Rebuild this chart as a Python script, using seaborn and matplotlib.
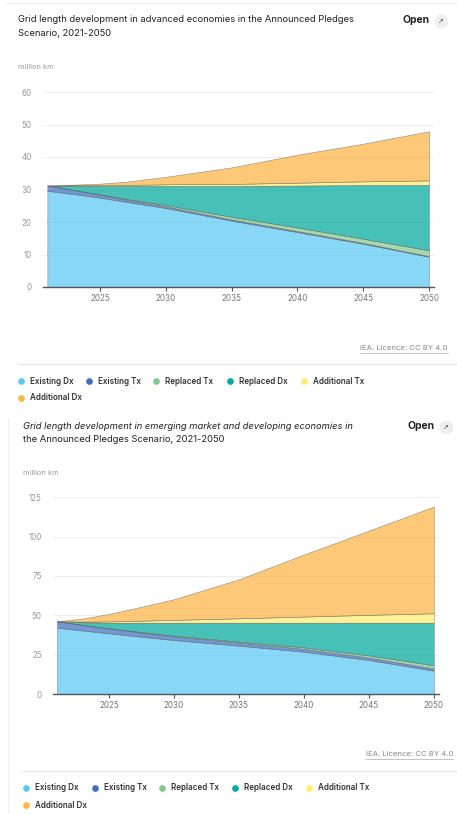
import numpy as np
import pandas as pd
import matplotlib
matplotlib.use("Agg")
import matplotlib.pyplot as plt
import seaborn as sns
from matplotlib.lines import Line2D

# --- datos ---
years = [2021, 2023, 2025, 2027, 2030, 2035, 2040, 2045, 2050]
series_names = ["Existing Dx", "Existing Tx", "Replaced Tx",
                "Replaced Dx", "Additional Tx", "Additional Dx"]
series_colors = ["#5BC8F5", "#3F6EC3", "#82C98C", "#00A99D", "#FDEE6F", "#FDB544"]

# advanced economies (million km)
adv_existing_dx = [29.6, 28.6, 27.5, 26.2, 24.3, 20.4, 16.9, 13.3, 9.3]
adv_existing_tx = [1.6, 1.2, 0.9, 0.7, 0.5, 0.4, 0.3, 0.25, 0.2]
adv_replaced_tx = [0.0, 0.05, 0.1, 0.2, 0.4, 0.8, 1.1, 1.3, 1.8]
adv_replaced_dx = [0.0, 1.35, 2.6, 4.0, 5.9, 9.5, 12.9, 16.55, 20.1]
adv_additional_tx = [0.0, 0.1, 0.2, 0.3, 0.5, 0.6, 0.9, 1.1, 1.4]
adv_additional_dx = [0.0, 0.2, 0.5, 1.0, 2.3, 5.1, 8.6, 11.6, 15.1]

# emerging market and developing economies (million km)
emde_existing_dx = [42.2, 40.3, 38.6, 36.8, 34.3, 30.7, 26.9, 21.6, 14.8]
emde_existing_tx = [4.0, 3.5, 3.0, 2.7, 2.3, 2.0, 1.8, 1.6, 1.4]
emde_replaced_tx = [0.0, 0.1, 0.2, 0.3, 0.4, 0.6, 0.9, 1.3, 2.0]
emde_replaced_dx = [0.0, 1.7, 3.5, 5.5, 8.3, 12.0, 15.7, 20.8, 27.1]
emde_additional_tx = [0.0, 0.4, 0.8, 1.2, 1.8, 2.8, 3.9, 5.0, 6.0]
emde_additional_dx = [0.0, 2.0, 4.8, 8.0, 13.1, 24.8, 39.4, 53.5, 67.8]

adv_yticks = [0, 10, 20, 30, 40, 50, 60]
emde_yticks = [0, 25, 50, 75, 100, 125]
xticks = [2025, 2030, 2035, 2040, 2045, 2050]

df_adv = pd.DataFrame(dict(zip(series_names, [adv_existing_dx, adv_existing_tx, adv_replaced_tx,
                                             adv_replaced_dx, adv_additional_tx, adv_additional_dx])),
                      index=years)
df_emde = pd.DataFrame(dict(zip(series_names, [emde_existing_dx, emde_existing_tx, emde_replaced_tx,
                                              emde_replaced_dx, emde_additional_tx, emde_additional_dx])),
                       index=years)

W, H = 457, 814

sns.set_theme(style="white")
plt.rcParams['font.family'] = ['Inter', 'DejaVu Sans']

fig = plt.figure(figsize=(W / 100, H / 100), dpi=100)


def fx(x):
    return x / W


def fy(y):
    return 1 - y / H


def draw_panel(ax, df, yticks, xlim):
    ax.stackplot(df.index, [df[c] for c in series_names], colors=series_colors,
                 alpha=0.72, edgecolor="#666666", linewidth=0.4)
    ax.set_xlim(*xlim)
    ax.set_ylim(yticks[0], yticks[-1])
    ax.set_yticks(yticks)
    ax.set_xticks(xticks)
    ax.yaxis.grid(True, color="#eeeeee", linewidth=0.7)
    ax.set_axisbelow(True)
    sns.despine(ax=ax, left=True)
    ax.spines["bottom"].set_color("#555555")
    ax.spines["bottom"].set_linewidth(1.0)
    ax.tick_params(axis="x", length=3, width=0.8, color="#555555", pad=2,
                   labelsize=5.8, labelcolor="#777777", bottom=True)
    ax.tick_params(axis="y", length=0, pad=8, labelsize=5.8, labelcolor="#999999")
    ax.set_xlabel("")
    ax.set_ylabel("")


def draw_card(top, title1, title2, left, italic1=False):
    fig.text(fx(left), fy(top), title1, fontsize=6.75, color="#222222",
             va="center", ha="left", style="italic" if italic1 else "normal")
    fig.text(fx(left), fy(top + 14), title2, fontsize=6.75, color="#222222",
             va="center", ha="left")
    # boton Open
    fig.text(fx(left + 412), fy(top), "Open", fontsize=7.5, fontweight="bold",
             color="#222222", va="center", ha="right")
    fig.add_artist(Line2D([fx(left + 423)], [fy(top + 1)], marker="o", markersize=9,
                          color="#eeeeee", transform=fig.transFigure))
    fig.text(fx(left + 423), fy(top + 1), "\u2197", fontsize=5, color="#555555",
             va="center", ha="center", family=["DejaVu Sans"])
    fig.text(fx(left), fy(top + 47), "million km", fontsize=5.3, color="#999999",
             va="center", ha="left")


def draw_footer(lic_y, lic_x, sep_y, sep_x, leg_y, dot_xs):
    fig.text(fx(lic_x), fy(lic_y), "IEA. Licence: CC BY 4.0", fontsize=5.6,
             color="#888888", va="center", ha="right")
    fig.add_artist(Line2D([fx(lic_x - 88), fx(lic_x)], [fy(lic_y + 4.5)] * 2,
                          color="#aaaaaa", linewidth=0.5, transform=fig.transFigure))
    fig.add_artist(Line2D([fx(sep_x), fx(457)], [fy(sep_y)] * 2,
                          color="#e6e6e6", linewidth=0.8, transform=fig.transFigure))
    positions = [(x, leg_y) for x in dot_xs] + [(dot_xs[0], leg_y + 17)]
    for (x, y), name, col in zip(positions, series_names, series_colors):
        fig.add_artist(Line2D([fx(x)], [fy(y)], marker="o", markersize=3.8, color=col,
                              linewidth=0, transform=fig.transFigure))
        fig.text(fx(x + 9), fy(y), name, fontsize=5.8, fontweight="semibold",
                 color="#333333", va="center", ha="left")


# --- panel 1: advanced economies ---
ax1 = fig.add_axes([fx(43), fy(287), fx(434) - fx(43), fy(92) - fy(287)])
draw_panel(ax1, df_adv, adv_yticks, (2020.67, 2050.38))
fig.add_artist(Line2D([fx(6), fx(457)], [fy(3)] * 2, color="#eeeeee", linewidth=0.8,
                      transform=fig.transFigure))
draw_card(20, "Grid length development in advanced economies in the Announced Pledges",
          "Scenario, 2021-2050", 18)
draw_footer(348, 448, 364, 18, 381, [21, 89, 156, 230, 304])

# --- panel 2: emerging market and developing economies ---
ax2 = fig.add_axes([fx(53), fy(694), fx(439) - fx(53), fy(497.3) - fy(694)])
draw_panel(ax2, df_emde, emde_yticks, (2020.69, 2050.4))
fig.add_artist(Line2D([fx(8), fx(8)], [fy(418), fy(814)], color="#eeeeee", linewidth=0.8,
                      transform=fig.transFigure))
draw_card(426, "Grid length development in emerging market and developing economies in",
          "the Announced Pledges Scenario, 2021-2050", 23, italic1=True)
draw_footer(754, 453, 771, 22, 788, [26, 95, 162, 235, 309])

fig.savefig("out.png", dpi=100)
